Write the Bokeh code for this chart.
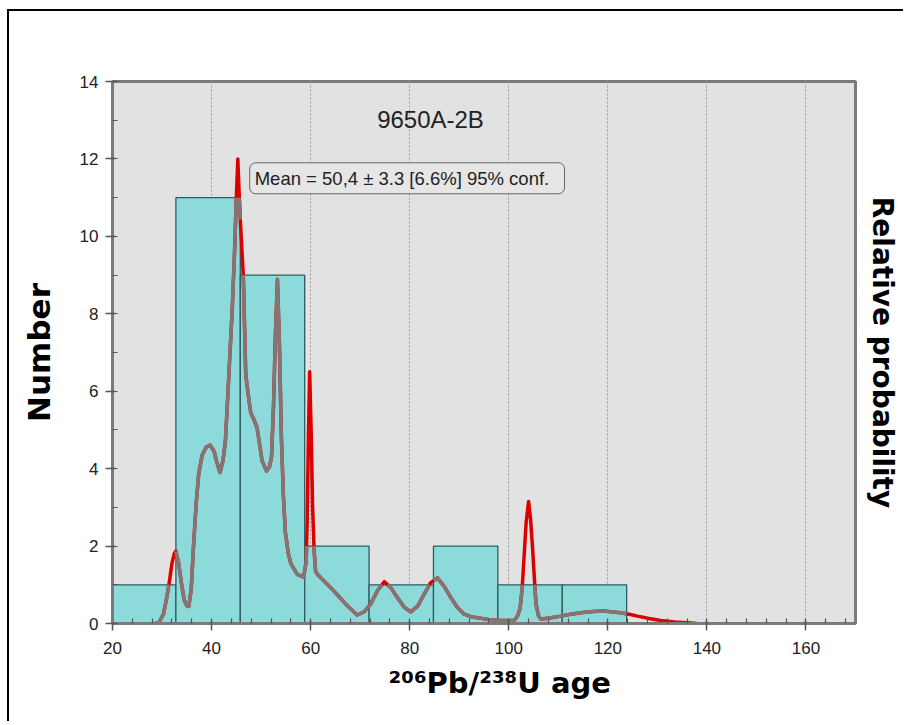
import math
from bokeh.plotting import figure
from bokeh.models import Range1d, SingleIntervalTicker, FixedTicker, Label, LinearAxis, Title
from bokeh.embed import file_html
from bokeh.resources import INLINE

# ---------------- data ----------------
bin_edges = [19.8, 32.8, 45.8, 58.8, 71.8, 84.8, 97.8, 110.8, 123.8]
bin_counts = [1, 11, 9, 2, 1, 2, 1, 1]

prob_x = [28.5, 29.4, 30.3, 31.0, 31.5, 32.0, 32.5, 32.8, 33.3, 33.9, 34.5, 35.0, 35.4,
          35.9, 36.4, 36.9, 37.4, 38.1, 38.9, 39.7, 40.5, 41.1, 41.7, 42.3, 42.8, 43.5,
          44.2, 44.7, 45.0, 45.3, 45.6, 45.85, 46.4, 46.9, 47.4, 47.9, 48.6, 49.2, 50.2,
          51.1, 51.7, 52.1, 52.5, 52.9, 53.3, 53.7, 54.1, 54.5, 54.9, 55.5, 56.0, 57.3,
          58.6, 59.1, 59.3, 59.55, 59.8, 60.1, 60.4, 60.7, 61.0, 61.5, 62.7, 64.7, 67.1,
          69.4, 70.8, 72.1, 73.5, 74.9, 76.2, 77.5, 78.9, 80.2, 81.6, 82.9, 84.2, 85.6,
          87.0, 88.3, 89.6, 91.0, 92.5, 93.7, 96.0, 98.4, 101.1, 101.8, 102.3, 102.7,
          103.0, 103.5, 104.0, 104.4, 104.8, 105.2, 105.5, 106.0, 106.5, 108.5, 110.5,
          112.5, 114.5, 117.0, 119.2, 121.0, 122.6, 124.3, 126.0, 128.3, 130.7, 133.5,
          136.1, 138.0]
prob_y = [0.0, 0.02, 0.25, 0.7, 1.1, 1.55, 1.82, 1.87, 1.6, 1.05, 0.6, 0.46, 0.44,
          0.9, 2.1, 3.1, 3.86, 4.35, 4.55, 4.61, 4.45, 4.15, 3.9, 4.2, 4.72, 6.44,
          8.2, 9.8, 11.0, 12.0, 11.0, 10.3, 9.0, 6.44, 5.9, 5.45, 5.25, 5.05, 4.2,
          3.94, 4.05, 4.3, 5.6, 7.5, 8.89, 7.2, 4.8, 3.3, 2.35, 1.8, 1.55, 1.27,
          1.2, 1.6, 2.6, 4.8, 6.5, 5.0, 3.0, 1.9, 1.35, 1.25, 1.1, 0.84, 0.5,
          0.22, 0.3, 0.5, 0.85, 1.08, 0.92, 0.67, 0.42, 0.3, 0.45, 0.75, 1.05, 1.18,
          0.95, 0.67, 0.42, 0.24, 0.17, 0.15, 0.1, 0.08, 0.08, 0.2, 0.41, 0.9,
          1.53, 2.6, 3.15, 2.7, 1.96, 1.1, 0.5, 0.2, 0.11, 0.15, 0.19,
          0.24, 0.28, 0.31, 0.32, 0.3, 0.28, 0.24, 0.19, 0.13, 0.08, 0.04,
          0.02, 0.0]

x_ticks_interval = 20
y_ticks_interval = 2
sample_title = "9650A-2B"
mean_text = "Mean = 50,4 \u00b1 3.3  [6.6%]  95% conf."
y_title = "Number"
y2_title = "Relative probability"
x_title = "\u00b2\u2070\u2076Pb/\u00b2\u00b3\u2078U age"


# ---------- split the curve into parts inside / outside the bars ----------
def bar_height(x):
    for i in range(len(bin_counts)):
        if bin_edges[i] <= x < bin_edges[i + 1]:
            return bin_counts[i]
    return 0


def inside_parts(xs, ys):
    parts_x, parts_y = [], []
    cx, cy = [], []
    for k in range(len(xs) - 1):
        x0, y0, x1, y1 = xs[k], ys[k], xs[k + 1], ys[k + 1]
        ts = [0.0, 1.0] + [(e - x0) / (x1 - x0) for e in bin_edges if x0 < e < x1]
        ts.sort()
        fine = []
        for a, b in zip(ts[:-1], ts[1:]):
            fine.append(a)
            h = bar_height(x0 + (x1 - x0) * (a + b) / 2)
            ya = y0 + (y1 - y0) * a
            yb = y0 + (y1 - y0) * b
            if (ya - h) * (yb - h) < 0:
                fine.append(a + (b - a) * (h - ya) / (yb - ya))
        fine.append(1.0)
        for a, b in zip(fine[:-1], fine[1:]):
            m = (a + b) / 2
            xm = x0 + (x1 - x0) * m
            ym = y0 + (y1 - y0) * m
            if ym <= bar_height(xm) + 1e-9:
                pa = (x0 + (x1 - x0) * a, y0 + (y1 - y0) * a)
                pb = (x0 + (x1 - x0) * b, y0 + (y1 - y0) * b)
                if not cx:
                    cx, cy = [pa[0]], [pa[1]]
                cx.append(pb[0])
                cy.append(pb[1])
            else:
                if cx:
                    parts_x.append(cx)
                    parts_y.append(cy)
                cx, cy = [], []
    if cx:
        parts_x.append(cx)
        parts_y.append(cy)
    return parts_x, parts_y


# ---------------- figure ----------------
p = figure(width=896, height=712, x_range=Range1d(20, 170), y_range=Range1d(0, 14),
           output_backend="svg", toolbar_location=None,
           min_border_left=103, min_border_right=50, min_border_top=70, min_border_bottom=100)
p.styles = {"margin-left": "7px", "margin-top": "9px",
            "border-top": "2px solid black", "border-left": "2px solid black"}
p.background_fill_color = "#e2e2e2"
p.border_fill_color = "white"
p.outline_line_color = "#7a7a7a"
p.outline_line_width = 3

p.xaxis.ticker = SingleIntervalTicker(interval=x_ticks_interval, num_minor_ticks=5)
p.yaxis.ticker = SingleIntervalTicker(interval=y_ticks_interval, num_minor_ticks=2)
p.xgrid.ticker = p.xaxis.ticker
p.ygrid.visible = False
p.xgrid.grid_line_color = "#9a9a9a"
p.xgrid.grid_line_dash = "2 2"
p.xgrid.grid_line_width = 1

for ax in (p.xaxis[0], p.yaxis[0]):
    ax.axis_line_color = "#7a7a7a"
    ax.axis_line_width = 3
    ax.major_tick_line_color = "#555555"
    ax.major_tick_line_width = 1.5
    ax.minor_tick_line_color = "#555555"
    ax.minor_tick_line_width = 1.2
    ax.major_tick_out = 7
    ax.major_tick_in = 3
    ax.minor_tick_in = 5
    ax.minor_tick_out = 0
    ax.major_label_text_font = "Liberation Sans"
    ax.major_label_text_font_size = "17px"
    ax.major_label_text_color = "#222222"
p.xaxis.major_label_standoff = 11
p.yaxis.major_label_standoff = 7

p.yaxis.axis_label = y_title
p.yaxis.axis_label_text_font = "DejaVu Sans"
p.yaxis.axis_label_text_font_style = "bold"
p.yaxis.axis_label_text_font_size = "31px"
p.yaxis.axis_label_text_color = "#000000"
p.yaxis.axis_label_standoff = 20

right_axis = LinearAxis(ticker=FixedTicker(ticks=[]), axis_label=y2_title,
                        axis_line_color="#7a7a7a", axis_line_width=3,
                        major_tick_line_color=None, minor_tick_line_color=None,
                        axis_label_text_font="DejaVu Sans", axis_label_text_font_style="bold",
                        axis_label_text_font_size="28px", axis_label_text_color="#000000",
                        axis_label_standoff=10)
p.add_layout(right_axis, "right")

p.add_layout(Title(text=x_title, align="left", offset=276, standoff=14,
                   text_font="DejaVu Sans", text_font_style="bold",
                   text_font_size="29px", text_color="#000000"), "below")

# histogram
p.quad(left=bin_edges[:-1], right=bin_edges[1:], bottom=0, top=bin_counts,
       fill_color="#8cdada", line_color="#2d5c60", line_width=1.3)

# probability curve: red, grey where it lies within the bars
p.line(prob_x, prob_y, line_color="#dd0000", line_width=3.5, line_join="round")
gx, gy = inside_parts(prob_x, prob_y)
p.multi_line(gx, gy, line_color="#857474", line_width=3.5, line_join="round")

# texts inside the plot
p.add_layout(Label(x=84.2, y=13.02, text=sample_title, text_align="center",
                   text_baseline="middle", text_font="Liberation Sans",
                   text_font_size="24px", text_color="#222222"))
p.add_layout(Label(x=47.7, y=11.5, text=mean_text, text_align="left",
                   text_baseline="middle", text_font="Liberation Sans",
                   text_font_size="18.5px", text_color="#222222",
                   background_fill_color="#e6e6e6", border_line_color="#666666",
                   border_line_width=1, padding=5, border_radius=6))

open("out.html", "w").write(file_html(p, INLINE))
